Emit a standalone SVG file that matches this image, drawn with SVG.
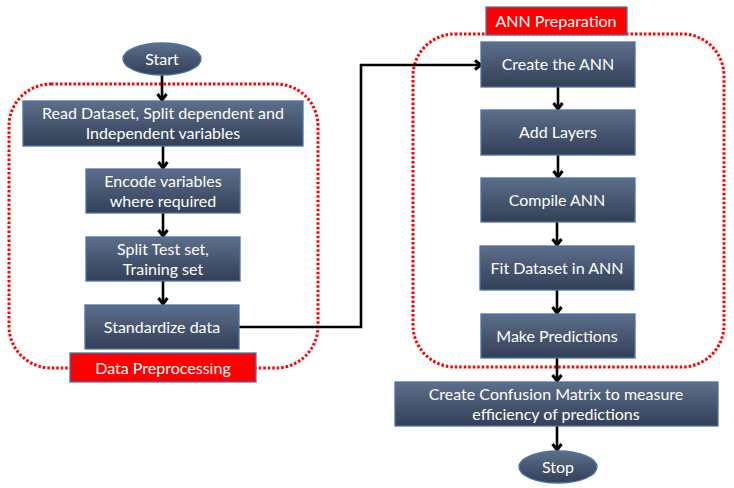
<svg xmlns="http://www.w3.org/2000/svg" width="734" height="488" viewBox="0 0 734 488">
<defs>
<linearGradient id="g" x1="0" y1="0" x2="0" y2="1">
<stop offset="0" stop-color="#5d6f8b"/>
<stop offset="1" stop-color="#323f57"/>
</linearGradient>
<marker id="ar" markerWidth="12" markerHeight="12" refX="9" refY="6" orient="auto" markerUnits="userSpaceOnUse">
<path d="M3,1.5 L9,6 L3,10.5" fill="none" stroke="#000" stroke-width="3"/>
</marker>
<style>
.box{fill:url(#g);stroke:#4a72a6;stroke-width:1.3}
.t{font-family:Lato,"Liberation Sans",sans-serif;font-size:16px;fill:#fff;text-anchor:middle;dominant-baseline:central}
.lbl{fill:#ff0000;stroke:#4a72a6;stroke-width:1.3}
.grp{fill:none;stroke:#ff0000;stroke-width:3;stroke-dasharray:2.5 2}
.c{fill:none;stroke:#000;stroke-width:2.6;marker-end:url(#ar)}
</style>
</defs>
<rect width="734" height="488" fill="#fff"/>
<g id="groups">
<rect class="grp" x="9" y="84" width="309" height="284" rx="42"/>
<rect class="grp" x="413" y="34" width="311" height="333" rx="42"/>
</g>
<g id="connectors">
<path class="c" d="M162,75 V100"/>
<path class="c" d="M163,146 V168"/>
<path class="c" d="M163,213 V236"/>
<path class="c" d="M163,281 V304"/>
<path class="c" d="M239,327 H361 V65 H481"/>
<path class="c" d="M558,87 V109"/>
<path class="c" d="M558,155 V177"/>
<path class="c" d="M557,222 V245"/>
<path class="c" d="M557,290 V313"/>
<path class="c" d="M557,358 V381"/>
<path class="c" d="M557,426 V450"/>
</g>
<g id="start"><ellipse class="box" cx="162" cy="59" rx="39" ry="16"/><text class="t" x="162" y="58">Start</text></g>
<g id="read"><rect class="box" x="23" y="101" width="280" height="45"/><text class="t" x="163" y="112">Read Dataset, Split dependent and</text><text class="t" x="163" y="132">Independent variables</text></g>
<g id="encode"><rect class="box" x="86" y="169" width="154" height="44"/><text class="t" x="163" y="180">Encode variables</text><text class="t" x="163" y="200">where required</text></g>
<g id="split"><rect class="box" x="86" y="237" width="154" height="44"/><text class="t" x="163" y="248">Split Test set,</text><text class="t" x="163" y="268">Training set</text></g>
<g id="standardize"><rect class="box" x="85" y="305" width="154" height="44"/><text class="t" x="162" y="326">Standardize data</text></g>
<g id="dp-label"><rect class="lbl" x="70" y="353" width="186" height="29"/><text class="t" x="163" y="367">Data Preprocessing</text></g>
<g id="ann-label"><rect class="lbl" x="486" y="7" width="141" height="28"/><text class="t" x="556" y="20">ANN Preparation</text></g>
<g id="create"><rect class="box" x="481" y="42" width="154" height="45"/><text class="t" x="558" y="63">Create the ANN</text></g>
<g id="add"><rect class="box" x="481" y="110" width="154" height="45"/><text class="t" x="558" y="131">Add Layers</text></g>
<g id="compile"><rect class="box" x="481" y="178" width="154" height="44"/><text class="t" x="557" y="199">Compile ANN</text></g>
<g id="fit"><rect class="box" x="480" y="246" width="154" height="44"/><text class="t" x="557" y="267">Fit Dataset in ANN</text></g>
<g id="predict"><rect class="box" x="481" y="314" width="154" height="44"/><text class="t" x="557" y="335">Make Predictions</text></g>
<g id="confusion"><rect class="box" x="395" y="382" width="323" height="44"/><text class="t" x="556" y="393">Create Confusion Matrix to measure</text><text class="t" x="556" y="413">efficiency of predictions</text></g>
<g id="stop"><ellipse class="box" cx="558" cy="467" rx="39" ry="16"/><text class="t" x="558" y="466">Stop</text></g>
</svg>
